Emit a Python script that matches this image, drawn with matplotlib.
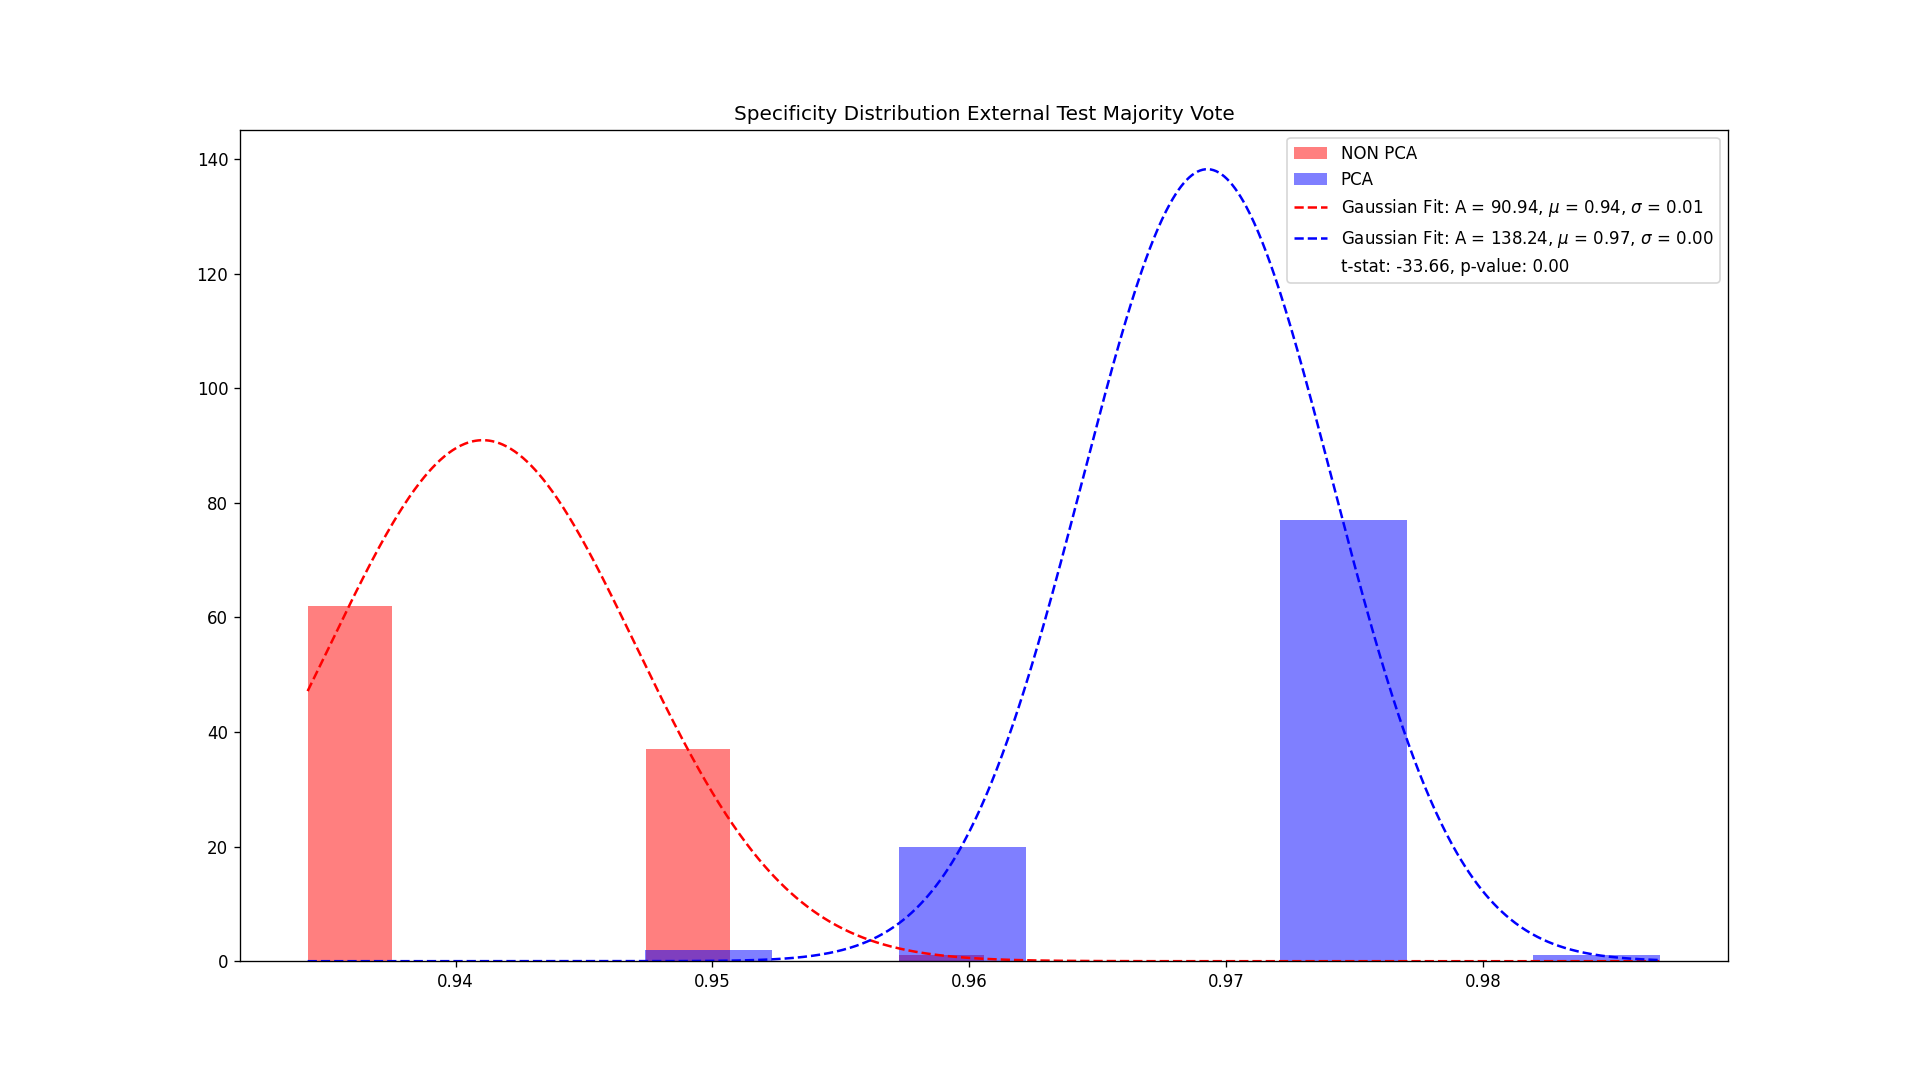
"""
Specificity distribution of the external test (majority vote), NON PCA vs PCA,
with Gaussian fits drawn over the histograms.
"""
import matplotlib
matplotlib.use("Agg")
import matplotlib.pyplot as plt
import numpy as np

# Histogram bins (edges) and counts
non_pca_edges = [0.93424, 0.93753, 0.94082, 0.94411, 0.94740, 0.95069, 0.95398, 0.95727, 0.96056]
non_pca_counts = [62, 0, 0, 0, 37, 0, 0, 1]

pca_edges = [0.94739, 0.95233, 0.95727, 0.96221, 0.96715, 0.97209, 0.97703, 0.98197, 0.98691]
pca_counts = [2, 0, 20, 0, 0, 77, 0, 1]

# Gaussian fit parameters (A, mu, sigma)
non_pca_fit = (90.94, 0.94106, 0.00595)
pca_fit = (138.24, 0.96927, 0.00487)

t_stat = -33.66
p_value = 0.00


def gaussian(x, a, mu, sigma):
    return a * np.exp(-((x - mu) ** 2) / (2 * sigma ** 2))


def draw_hist(ax, edges, counts, color, label):
    edges = np.asarray(edges)
    widths = np.diff(edges)
    return ax.bar(edges[:-1], counts, width=widths, align="edge",
                  color=color, alpha=0.5, label=label)


fig, ax = plt.subplots(figsize=(16, 9), dpi=120)

h_non = draw_hist(ax, non_pca_edges, non_pca_counts, "red", "NON PCA")
h_pca = draw_hist(ax, pca_edges, pca_counts, "blue", "PCA")

x_fit = np.linspace(min(non_pca_edges[0], pca_edges[0]),
                    max(non_pca_edges[-1], pca_edges[-1]), 1000)

a, mu, sigma = non_pca_fit
l_non, = ax.plot(x_fit, gaussian(x_fit, *non_pca_fit), "r--",
                 label=f"Gaussian Fit: A = {a:.2f}, $\\mu$ = {mu:.2f}, $\\sigma$ = {sigma:.2f}")
a, mu, sigma = pca_fit
l_pca, = ax.plot(x_fit, gaussian(x_fit, *pca_fit), "b--",
                 label=f"Gaussian Fit: A = {a:.2f}, $\\mu$ = {mu:.2f}, $\\sigma$ = {sigma:.2f}")

l_stat, = ax.plot([], [], " ", label=f"t-stat: {t_stat:.2f}, p-value: {p_value:.2f}")

ax.set_title("Specificity Distribution External Test Majority Vote")
ax.legend(handles=[h_non, h_pca, l_non, l_pca, l_stat], loc="upper right")

fig.savefig("out.png")
